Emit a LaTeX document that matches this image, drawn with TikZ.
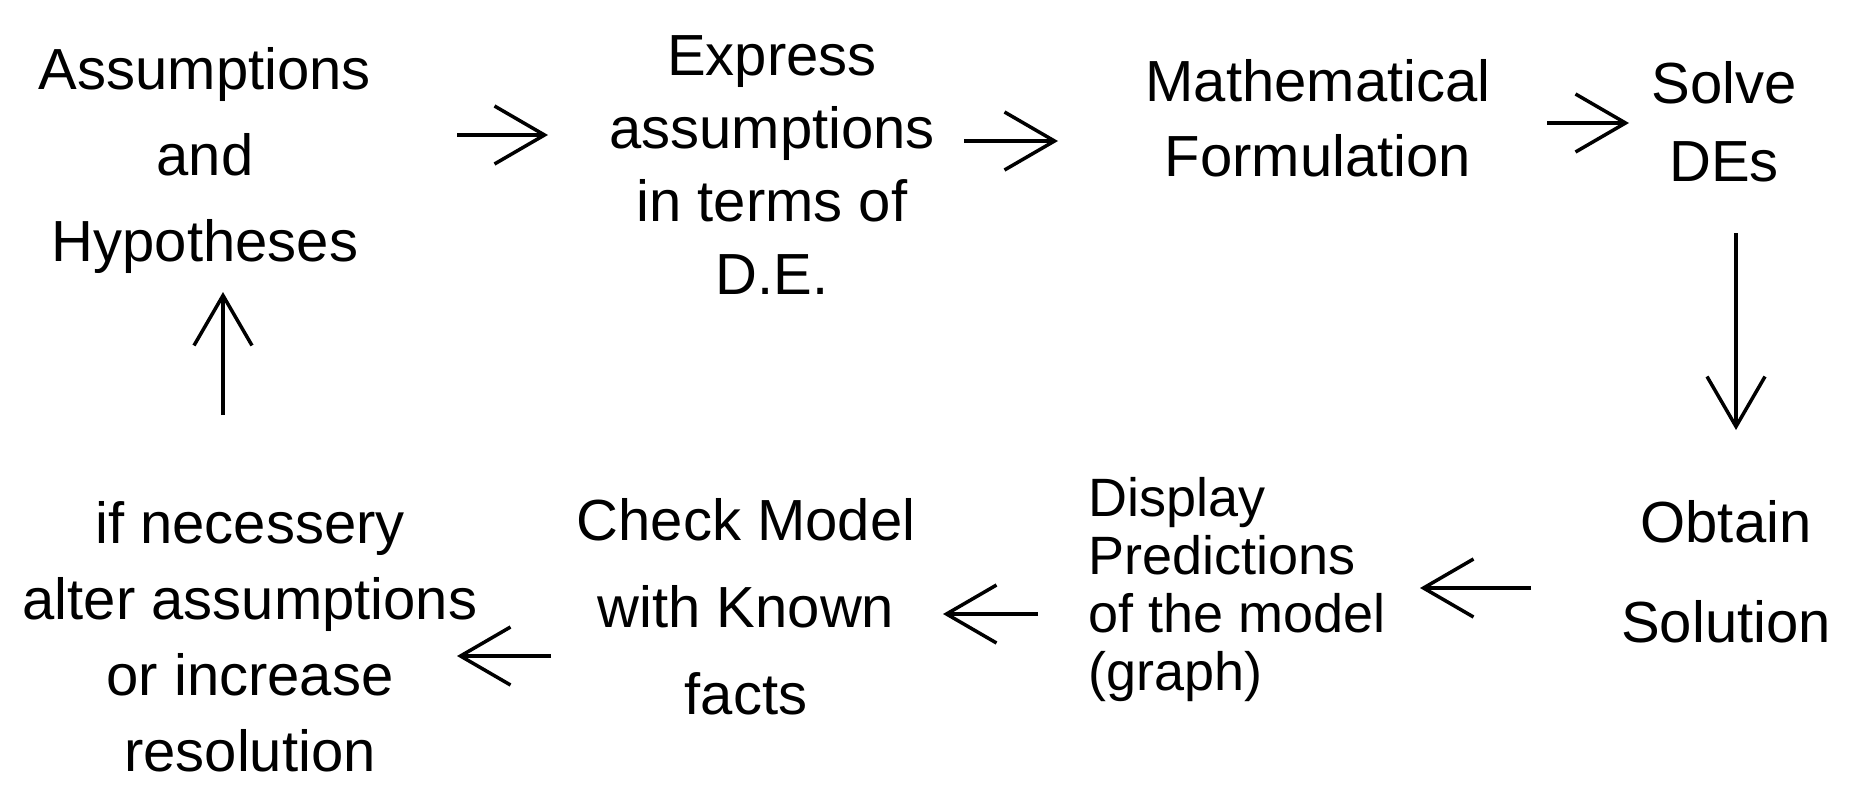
\documentclass[tikz,border=0pt]{standalone}
\usepackage{fontspec}
\setmainfont{Liberation Sans}
\usetikzlibrary{arrows.meta}
\tikzset{
  lbl/.style={inner sep=0pt, align=center, font=\fontsize{58}{#1}\selectfont},
  arr/.style={line width=3.5pt, -{Straight Barb[length=50pt,width=58pt,line width=3.5pt]}}
}
\begin{document}
\begin{tikzpicture}[x=1pt,y=-1pt]
\useasboundingbox (0,0) rectangle (1871,796);
\node[lbl=86] (hyp) at (205,160) {Assumptions\\and\\Hypotheses};
\node[lbl=73] (expr) at (772,165) {Express\\assumptions\\in terms of\\D.E.};
\node[lbl=75] (math) at (1318,118) {Mathematical\\Formulation};
\node[lbl=78] (solve) at (1724,122) {Solve\\DEs};
\node[lbl=100] (obtain) at (1726,572) {Obtain\\Solution};
\node[lbl=58, align=left, anchor=west, font=\fontsize{54}{58}\selectfont] (disp) at (1088,590) {Display\\Predictions\\of the model\\(graph)};
\node[lbl=87] (check) at (746,607) {Check Model\\with Known\\facts};
\node[lbl=76] (alter) at (250,637) {if necessery\\alter assumptions\\or increase\\resolution};
\coordinate (a1s) at (457,135); \coordinate (a1e) at (548,135);
\coordinate (a2s) at (964,141); \coordinate (a2e) at (1058,141);
\coordinate (a3s) at (1547,123); \coordinate (a3e) at (1629,123);
\coordinate (a4s) at (1736,233); \coordinate (a4e) at (1736,430);
\coordinate (a5s) at (1531,588); \coordinate (a5e) at (1420,588);
\coordinate (a6s) at (1038,614); \coordinate (a6e) at (943,614);
\coordinate (a7s) at (551,656); \coordinate (a7e) at (457,656);
\coordinate (a8s) at (223,415); \coordinate (a8e) at (223,292);
\draw[arr] (a1s) -- (a1e);
\draw[arr] (a2s) -- (a2e);
\draw[arr] (a3s) -- (a3e);
\draw[arr] (a4s) -- (a4e);
\draw[arr] (a5s) -- (a5e);
\draw[arr] (a6s) -- (a6e);
\draw[arr] (a7s) -- (a7e);
\draw[arr] (a8s) -- (a8e);
\end{tikzpicture}
\end{document}
